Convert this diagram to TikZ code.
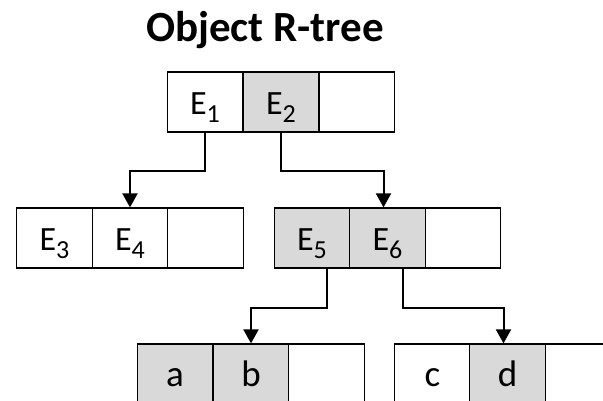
\documentclass[tikz,border=0pt]{standalone}
\usepackage{fontspec}
\setmainfont{Carlito}
\usetikzlibrary{arrows.meta}
\definecolor{cellgray}{HTML}{D9D9D9}
% entry label with a lowered index
\newcommand\entry[2]{#1\raisebox{-8pt}{\fontsize{26}{26}\selectfont #2}}
\begin{document}
\begin{tikzpicture}[x=1pt,y=-1pt,
  cell/.style={draw=black,line width=1.2pt,minimum width=75.7pt,minimum height=60pt,
    inner sep=0pt,text height=24pt,text depth=0pt,font=\fontsize{34}{40}\selectfont},
  hit/.style={cell,fill=cellgray},
  leaf/.style={font=\fontsize{37}{40}\selectfont},
  link/.style={line width=2pt,-{Triangle[length=14pt,width=15pt]}},
  titlefont/.style={font=\fontsize{43}{50}\selectfont\bfseries}]
\useasboundingbox (0,0) rectangle (603,400);
\fill[white] (0,0) rectangle (603,400);

\node[titlefont,anchor=base] (title) at (265,41) {Object R-tree};

% root node
\node[cell] (t1) at (205,102) {\entry{E}{1}};
\node[hit]  (t2) at (281,102) {\entry{E}{2}};
\node[cell] (t3) at (357,102) {};

% level 2, left
\node[cell] (p1) at (54.5,238) {\entry{E}{3}};
\node[cell] (p2) at (130,238) {\entry{E}{4}};
\node[cell] (p3) at (205.5,238) {};

% level 2, right
\node[hit]  (q1) at (312,238) {\entry{E}{5}};
\node[hit]  (q2) at (387.5,238) {\entry{E}{6}};
\node[cell] (q3) at (463,238) {};

% leaves, left
\node[hit,leaf]  (u1) at (175,374) {a};
\node[hit,leaf]  (u2) at (251,374) {b};
\node[cell]      (u3) at (326.5,374) {};

% leaves, right
\node[cell,leaf] (v1) at (432.5,374) {c};
\node[hit,leaf]  (v2) at (507.5,374) {d};
\node[cell]      (v3) at (583,374) {};

% child pointers
\draw[link] (t1.south) -- ++(0,38) -| (p2.north);
\draw[link] (t2.south) -- ++(0,38) -| ([xshift=-4pt]q2.north);
\draw[link] ([xshift=15pt]q1.south) -- ++(0,39) -| (u2.north);
\draw[link] ([xshift=15pt]q2.south) -- ++(0,39) -| ([xshift=-4pt]v2.north);
\end{tikzpicture}
\end{document}
